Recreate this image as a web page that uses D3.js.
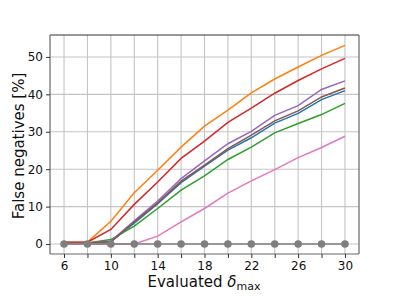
<!DOCTYPE html>
<html><head><meta charset="utf-8">
<script src="https://cdn.jsdelivr.net/npm/d3@7"></script>
<style>body{margin:0;background:#fff}svg{display:block;font-family:"DejaVu Sans",sans-serif}</style>
</head><body><svg id="c" width="399" height="299"></svg>
<script>
const xs = [6,8,10,12,14,16,18,20,22,24,26,28,30];
const xTickLabels = [6,10,14,18,22,26,30];
const yTicks = [0,10,20,30,40,50];
const colors = ["#1f77b4","#ff7f0e","#2ca02c","#d62728","#9467bd","#8c564b","#e377c2","#7f7f7f"];
const blue   = [0.3,0.3,0.6,5.6,10.8,16.4,20.8,25.1,28.4,32.3,34.9,38.6,41.0];
const orange = [0.5,0.5,6.1,13.7,19.7,25.9,31.5,35.8,40.4,44.1,47.3,50.4,53.1];
const green  = [0.3,0.3,1.2,4.8,9.5,14.4,18.2,22.6,25.9,29.7,32.2,34.6,37.6];
const red    = [0.5,0.5,3.9,10.6,16.6,22.9,27.5,32.5,36.3,40.3,43.7,46.8,49.6];
const purple = [0.3,0.3,0.8,6.2,11.5,17.5,22.2,26.8,30.1,34.4,37.0,41.3,43.6];
const brown  = [0.3,0.3,0.6,5.9,11.0,16.8,21.1,25.5,29.1,32.9,35.6,39.3,41.7];
const pink   = [0,0,0,0,2.1,5.9,9.5,13.6,16.9,19.9,23.1,25.8,28.8];
const gray   = [0,0,0,0,0,0,0,0,0,0,0,0,0];
const series = [blue,orange,green,red,purple,brown,pink,gray];

const svg = d3.select("#c");
const L=50,R=359,T=35,B=254;
const x = d3.scaleLinear().domain([4.8,31.2]).range([L,R]);
const y = d3.scaleLinear().domain([-2.66,55.86]).range([B,T]);

// grid
svg.append("g").selectAll("line").data(xs).join("line")
  .attr("x1",d=>x(d)).attr("x2",d=>x(d)).attr("y1",T).attr("y2",B)
  .attr("stroke","#c4c4c4").attr("stroke-width",1.1);
svg.append("g").selectAll("line").data(yTicks).join("line")
  .attr("y1",d=>y(d)).attr("y2",d=>y(d)).attr("x1",L).attr("x2",R)
  .attr("stroke","#c4c4c4").attr("stroke-width",1.1);

// lines
const line = d3.line().x((d,i)=>x(xs[i])).y(d=>y(d));
series.forEach((s,k)=>{
  svg.append("path").datum(s).attr("d",line).attr("fill","none")
    .attr("stroke",colors[k]).attr("stroke-width",1.5);
});
svg.append("g").selectAll("circle").data(gray).join("circle")
  .attr("cx",(d,i)=>x(xs[i])).attr("cy",d=>y(d)).attr("r",3.8).attr("fill","#7f7f7f");

// spines
svg.append("line").attr("x1",L).attr("x2",R).attr("y1",T).attr("y2",T).attr("stroke","#333").attr("stroke-width",1.2);
svg.append("line").attr("x1",R).attr("x2",R).attr("y1",T).attr("y2",B).attr("stroke","#666").attr("stroke-width",1.2);
svg.append("line").attr("x1",L).attr("x2",R).attr("y1",B).attr("y2",B).attr("stroke","#666").attr("stroke-width",1.2);
svg.append("line").attr("x1",L).attr("x2",L).attr("y1",T).attr("y2",B).attr("stroke","#666").attr("stroke-width",1.2);

// axes
const xAxis = d3.axisBottom(x).tickValues(xs).tickSize(4)
  .tickFormat(d=>xTickLabels.includes(d)?d:"");
const gx = svg.append("g").attr("transform",`translate(0,${B})`).call(xAxis);
gx.select(".domain").remove();
gx.selectAll("line").attr("stroke","#333");
gx.selectAll("text").attr("fill","#111").attr("font-size",12)
  .attr("font-family","DejaVu Sans");

const yAxis = d3.axisLeft(y).tickValues(yTicks).tickSize(4);
const gy = svg.append("g").attr("transform",`translate(${L},0)`).call(yAxis);
gy.select(".domain").remove();
gy.selectAll("line").attr("stroke","#333");
gy.selectAll("text").attr("fill","#111").attr("font-size",12).attr("font-family","DejaVu Sans");

// labels
const xl = svg.append("text").attr("x",204).attr("y",287).attr("text-anchor","middle")
  .attr("font-size",15).attr("fill","#111");
xl.append("tspan").text("Evaluated ");
xl.append("tspan").attr("font-style","italic").text("δ");
xl.append("tspan").attr("font-size",11).attr("dy",3).text("max");

svg.append("text").attr("transform","translate(24,146) rotate(-90)").attr("text-anchor","middle")
  .attr("font-size",15).attr("fill","#111").text("False negatives [%]");
</script></body></html>
